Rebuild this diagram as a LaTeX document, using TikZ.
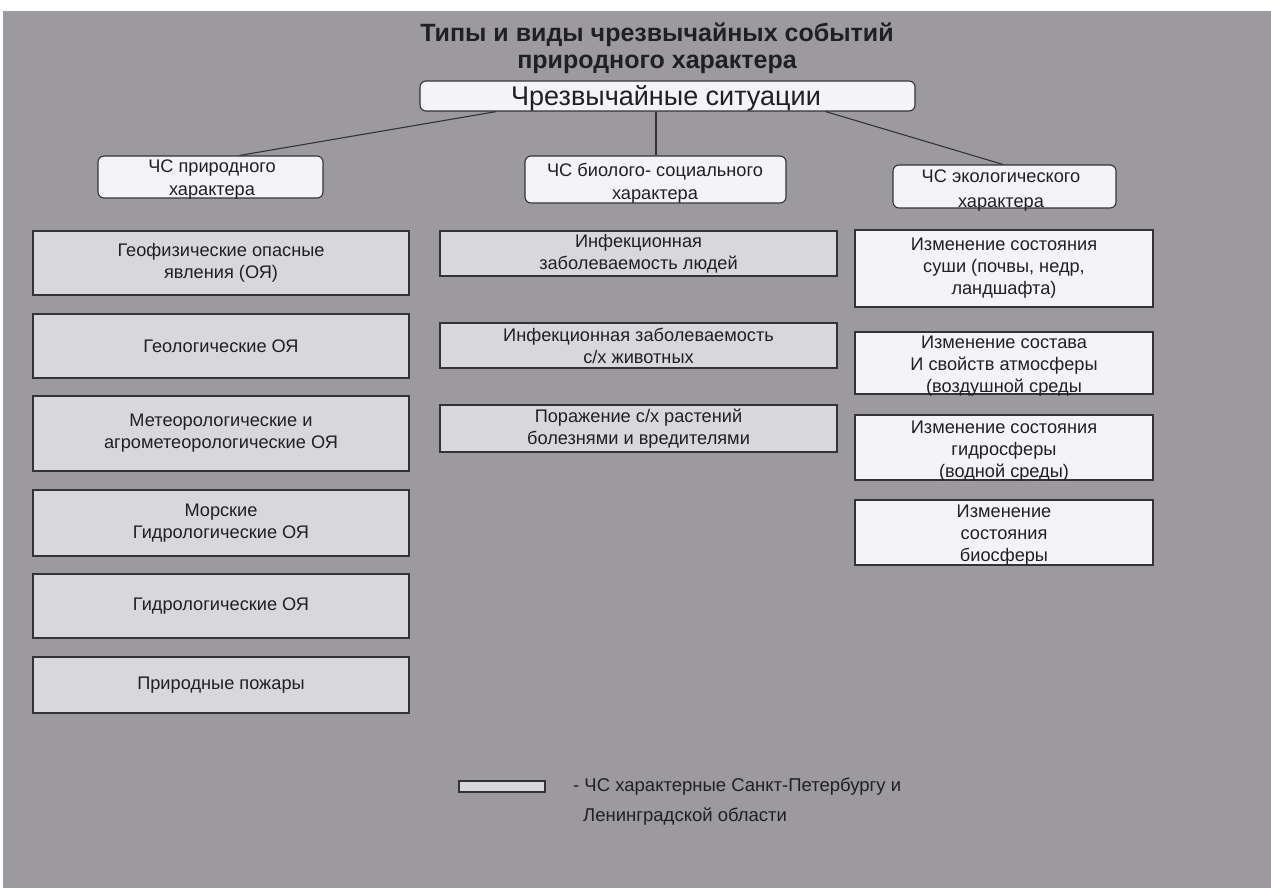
\documentclass[tikz,border=0pt]{standalone}
\usepackage{fontspec}
\setmainfont{Liberation Sans}
\definecolor{bggray}{HTML}{9C9A9F}
\definecolor{lightbox}{HTML}{D8D8DC}
\definecolor{whitebox}{HTML}{F4F4F7}
\definecolor{edge}{HTML}{333336}
\definecolor{ink}{HTML}{202022}
\begin{document}
\begin{tikzpicture}[x=1pt,y=-1pt,
  bodyfont/.style={font=\fontsize{18.2}{22}\selectfont, text=ink, align=center},
  gbox/.style={draw=edge, line width=1.1pt, fill=lightbox, inner sep=0pt, bodyfont},
  wbox/.style={draw=edge, line width=1.1pt, fill=whitebox, inner sep=0pt, bodyfont},
  rbox/.style={draw=edge, line width=1.1pt, fill=whitebox, rounded corners=6pt, inner sep=0pt},
  link/.style={draw=edge, line width=1.1pt}
]
\useasboundingbox (0,0) rectangle (1271,888);
\fill[white] (0,0) rectangle (1271,888);
\fill[bggray] (3,11) rectangle (1271,888);

% title
\node[font=\fontsize{25}{27}\selectfont\bfseries, text=ink, align=center] (title) at (657,48)
  {Типы и виды чрезвычайных событий\\природного характера};

% top box
\node[rbox, minimum width=495, minimum height=30] (top) at (667.5,96) {};
\node[font=\fontsize{27}{30}\selectfont, text=ink] (toptxt) at (666,98) {Чрезвычайные ситуации};

% second level
\node[rbox, minimum width=225, minimum height=42] (p) at (210.5,177) {};
\node[bodyfont, font=\fontsize{18.2}{23}\selectfont] (ptxt) at (212,180) {ЧС природного\\характера};
\node[rbox, minimum width=261, minimum height=47] (b) at (655.5,179.5) {};
\node[bodyfont, font=\fontsize{18.2}{23}\selectfont] (btxt) at (655,183) {ЧС биолого- социального\\характера};
\node[rbox, minimum width=223, minimum height=43] (e) at (1004.5,186.5) {};
\node[bodyfont, font=\fontsize{18.2}{25}\selectfont] (etxt) at (1001,191) {ЧС экологического\\характера};

% connectors
\draw[link] ([xshift=77pt]top.south west) -- ([xshift=142pt]p.north west);
\draw[link] ([xshift=-11.5pt]top.south) -- ([xshift=0.5pt]b.north);
\draw[link] ([xshift=-90pt]top.south east) -- ([xshift=-1.5pt]e.north);

% left column
\node[gbox, minimum width=376, minimum height=64] (g1) at (221,263) {Геофизические опасные\\явления (ОЯ)};
\node[gbox, minimum width=376, minimum height=64] (g2) at (221,346) {Геологические ОЯ};
\node[gbox, minimum width=376, minimum height=75] (g3) at (221,433.5) {Метеорологические и\\агрометеорологические ОЯ};
\node[gbox, minimum width=376, minimum height=66] (g4) at (221,523) {Морские\\Гидрологические ОЯ};
\node[gbox, minimum width=376, minimum height=64] (g5) at (221,606) {Гидрологические ОЯ};
\node[gbox, minimum width=376, minimum height=56] (g6) at (221,685) {Природные пожары};

% middle column
\node[gbox, minimum width=397, minimum height=45] (m1) at (638.5,253.5) {Инфекционная\\заболеваемость людей};
\node[gbox, minimum width=397, minimum height=45] (m2) at (638.5,345.5) {Инфекционная заболеваемость\\с/х животных};
\node[gbox, minimum width=397, minimum height=47] (m3) at (638.5,428.5) {Поражение с/х растений\\болезнями и вредителями};

% right column
\node[wbox, minimum width=298, minimum height=77] (r1) at (1004,268.5) {Изменение состояния\\суши (почвы, недр,\\ландшафта)};
\node[wbox, minimum width=298, minimum height=62] (r2) at (1004,363) {};
\node[bodyfont] (r2txt) at (1004,366) {Изменение состава\\И свойств атмосферы\\(воздушной среды};
\node[wbox, minimum width=298, minimum height=65] (r3) at (1004,447.5) {};
\node[bodyfont] (r3txt) at (1004,451) {Изменение состояния\\гидросферы\\(водной среды)};
\node[wbox, minimum width=298, minimum height=65] (r4) at (1004,532.5) {};
\node[bodyfont] (r4txt) at (1004,535.5) {Изменение\\состояния\\биосферы};

% legend
\node[draw=edge, line width=1.1pt, fill=lightbox, minimum width=86, minimum height=11, inner sep=0pt] (leg) at (502,786.5) {};
\node[font=\fontsize{18.5}{22}\selectfont, text=ink, anchor=west, inner sep=0pt] (legtxt) at (573,787) {- ЧС характерные Санкт-Петербургу и};
\node[font=\fontsize{18.5}{22}\selectfont, text=ink, anchor=west, inner sep=0pt] (legtxt2) at (583,817) {Ленинградской области};
\end{tikzpicture}
\end{document}
